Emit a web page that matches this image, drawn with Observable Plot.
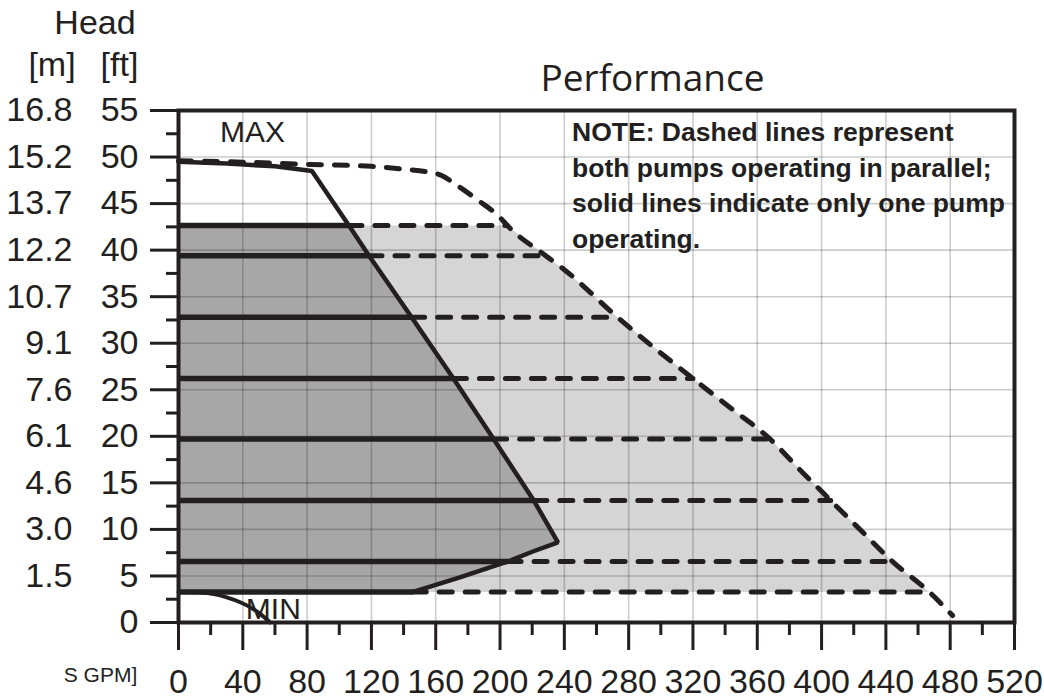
<!DOCTYPE html>
<html><head><meta charset="utf-8">
<script src="https://cdn.jsdelivr.net/npm/d3@7"></script>
<script src="https://cdn.jsdelivr.net/npm/@observablehq/plot@0.6"></script>
<style>body{margin:0;background:#fff} svg{display:block}</style>
</head><body><div id="chart"></div>
<script>
// ---- tick values / labels ----
const flowTicks = [0,40,80,120,160,200,240,280,320,360,400,440,480,520];
const flowMinorTicks = [20,60,100,140,180,220,260,300,340,380,420,460,500];
const headFtTicks = [0,5,10,15,20,25,30,35,40,45,50,55];
const headMinorTicks = [2.5,7.5,12.5,17.5,22.5,27.5,32.5,37.5,42.5,47.5,52.5];
const headMetricLabels = ["","1.5","3.0","4.6","6.1","7.6","9.1","10.7","12.2","13.7","15.2","16.8"];

// ---- speed setting lines (head in ft) ----
const speedHeads      = [42.65, 39.4, 32.8, 26.2, 19.7, 13.1, 6.56, 3.28];
const singleEndFlow   = [106, 118.5, 145, 171, 196, 221, 205, 146];
const parallelEndFlow = [204.5, 228.4, 273, 320, 368, 405.7, 444, 466];

// ---- single pump max envelope ----
const singleMaxFlow = [0, 30, 60, 83, 106, 118.5, 145, 171, 196, 221, 236, 220, 205, 175, 146];
const singleMaxHead = [49.5, 49.3, 49.0, 48.5, 42.65, 39.4, 32.8, 26.2, 19.7, 13.1, 8.6, 7.6, 6.56, 4.85, 3.28];

// ---- both pumps (parallel) max envelope ----
const parallelMaxFlow = [0, 40, 82, 120, 140, 155, 164, 172, 186, 200, 204.5, 228.4, 240, 273, 320, 343, 368, 386, 405.7, 425, 444, 467, 481.5];
const parallelMaxHead = [49.6, 49.45, 49.2, 49.0, 48.7, 48.4, 48.0, 47.1, 45.4, 43.5, 42.65, 39.4, 37.9, 32.8, 26.2, 23.1, 19.7, 16.5, 13.1, 9.8, 6.56, 3.28, 0.75];

// ---- min curve ----
const minFlow = [0, 12, 22, 30, 38, 45, 51, 57];
const minHead = [3.28, 3.25, 3.05, 2.7, 2.2, 1.6, 0.9, 0];

// ---- annotations ----
const annotLabels = ["MAX", "MIN"];
const annotFlow = [46, 59];
const annotHead = [52.6, 1.4];
const noteText = "NOTE: Dashed lines represent\nboth pumps operating in parallel;\nsolid lines indicate only one pump\noperating.";
const noteFlow = 244.8, noteHead = 54.4;

const INK = "#231f20";
const FONT = "'Liberation Sans', Arial, sans-serif";

const zip = (xs, ys) => xs.map((x, i) => ({flow: x, head: ys[i]}));
const singleMax = zip(singleMaxFlow, singleMaxHead);
const parallelMax = zip(parallelMaxFlow, parallelMaxHead);
const minCurve = zip(minFlow, minHead);
const speeds = speedHeads.map((h, i) => ({head: h, start: flowTicks[0], single: singleEndFlow[i], parallel: parallelEndFlow[i]}));

const topH = speedHeads[0], botH = speedHeads[speedHeads.length - 1];
const darkPoly = [{flow: 0, head: topH}, ...singleMax.filter(d => d.head <= topH && d.flow > 0), {flow: 0, head: botH}];
const lightPoly = [{flow: 0, head: topH}, ...parallelMax.filter(d => d.head <= topH && d.head >= botH), {flow: 0, head: botH}];

const metricRows = headFtTicks.map((ft, i) => ({ft, m: headMetricLabels[i]}));
const annots = annotLabels.map((t, i) => ({t, flow: annotFlow[i], head: annotHead[i]}));

const chart = Plot.plot({
  width: 1044, height: 700,
  marginLeft: 178, marginRight: 30, marginTop: 110, marginBottom: 78,
  x: {domain: [0, 520], axis: null},
  y: {domain: [0, 55], axis: null},
  style: {fontFamily: FONT, fontSize: "34px", color: INK, background: "#fff", overflow: "visible"},
  marks: [
    Plot.line(lightPoly, {x: "flow", y: "head", fill: "#d5d5d5", stroke: "none"}),
    Plot.line(darkPoly, {x: "flow", y: "head", fill: "#a7a7a7", stroke: "none"}),
    Plot.gridX(flowTicks, {stroke: "#000", strokeOpacity: 0.2, strokeWidth: 1.6}),
    Plot.gridY(headFtTicks, {stroke: "#000", strokeOpacity: 0.2, strokeWidth: 1.6}),
    Plot.text(annots, {x: "flow", y: "head", text: "t", fontSize: 30, fill: INK, textAnchor: "middle"}),
    Plot.text([noteText], {x: () => noteFlow, y: () => noteHead, text: d => d, fontSize: 26.5, fontWeight: "bold", fill: INK, textAnchor: "start", lineAnchor: "top", lineHeight: 1.34}),
    Plot.link(speeds, {x1: "single", x2: "parallel", y1: "head", y2: "head", stroke: INK, strokeWidth: 5, strokeDasharray: "13,13", strokeLinecap: "round"}),
    Plot.link(speeds, {x1: "start", x2: "single", y1: "head", y2: "head", stroke: INK, strokeWidth: 5.5}),
    Plot.line(parallelMax, {x: "flow", y: "head", stroke: INK, strokeWidth: 5, strokeDasharray: "13,13", strokeLinecap: "round", curve: "monotone-x"}),
    Plot.line(singleMax, {x: "flow", y: "head", stroke: INK, strokeWidth: 4.5, strokeLinejoin: "miter"}),
    Plot.line(minCurve, {x: "flow", y: "head", stroke: INK, strokeWidth: 4, curve: "monotone-x"}),
    Plot.frame({stroke: INK, strokeWidth: 4}),
    Plot.axisX(flowTicks, {anchor: "bottom", tickSize: 28, tickPadding: 18, strokeWidth: 3, stroke: INK, fill: INK, label: null, fontSize: 34}),
    Plot.axisX(flowMinorTicks, {anchor: "bottom", tickSize: 13, strokeWidth: 3, stroke: INK, tickFormat: () => "", label: null}),
    Plot.axisY(headFtTicks, {anchor: "left", tickSize: 28, tickPadding: 12, strokeWidth: 3, stroke: INK, fill: INK, label: null, fontSize: 34}),
    Plot.axisY(headMinorTicks, {anchor: "left", tickSize: 12, strokeWidth: 3, stroke: INK, tickFormat: () => "", label: null}),
    Plot.text(metricRows, {y: "ft", text: "m", frameAnchor: "left", dx: -106, textAnchor: "end", lineAnchor: "middle", fontSize: 34, fill: INK}),
    Plot.text(["Head"], {frameAnchor: "top-left", dx: -83.5, dy: -87.5, textAnchor: "middle", lineAnchor: "middle", fontSize: 34, fill: INK}),
    Plot.text(["[m]"], {frameAnchor: "top-left", dx: -126.5, dy: -45, textAnchor: "middle", lineAnchor: "middle", fontSize: 34, fill: INK}),
    Plot.text(["[ft]"], {frameAnchor: "top-left", dx: -59, dy: -45, textAnchor: "middle", lineAnchor: "middle", fontSize: 34, fill: INK}),
    Plot.text(["Performance"], {frameAnchor: "top", dx: 56, dy: -31, textAnchor: "middle", lineAnchor: "middle", fontSize: 37, fontFamily: "'Open Sans', 'Noto Sans', sans-serif", fill: INK}),
    Plot.text(["S GPM]"], {frameAnchor: "bottom-left", dx: -78, dy: 53, textAnchor: "middle", lineAnchor: "middle", fontSize: 21, fill: INK})
  ]
});
document.getElementById("chart").appendChild(chart);
</script>
</body></html>
